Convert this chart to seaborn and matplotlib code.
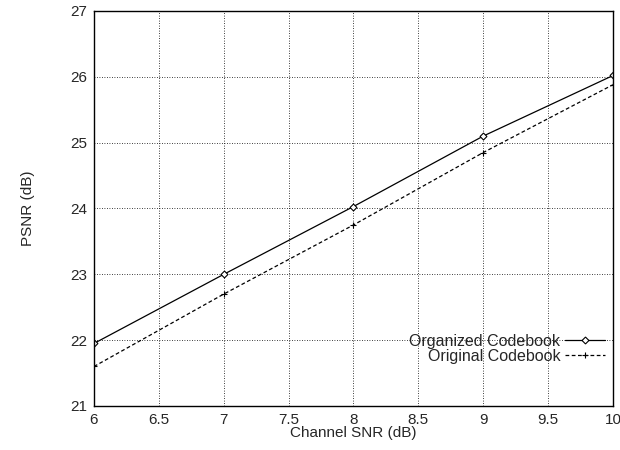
import matplotlib
matplotlib.use('Agg')
import matplotlib.pyplot as plt
import seaborn as sns
import pandas as pd

sns.set_style('white')
plt.rcParams['font.family'] = ['Liberation Sans', 'DejaVu Sans']

snr = [6, 7, 8, 9, 10]
organized = [21.95, 23.0, 24.03, 25.1, 26.02]
original = [21.6, 22.7, 23.75, 24.85, 25.88]

df = pd.DataFrame({'snr': snr, 'Organized Codebook': organized, 'Original Codebook': original})

fig = plt.figure(figsize=(6.2, 4.5), dpi=100)
ax = fig.add_axes([0.1516, 0.0978, 0.8371, 0.8778])

sns.lineplot(data=df, x='snr', y='Organized Codebook', ax=ax, color='black', lw=0.9,
             marker='D', markersize=3.5, markerfacecolor='white', markeredgecolor='black',
             markeredgewidth=0.8, label='Organized Codebook')
sns.lineplot(data=df, x='snr', y='Original Codebook', ax=ax, color='black', lw=0.9,
             linestyle=(0, (3, 2)), marker='+', markersize=5, markeredgewidth=0.8,
             markeredgecolor='black', label='Original Codebook')

ax.set_xlim(6, 10)
ax.set_ylim(21, 27)
ax.set_xticks([6, 6.5, 7, 7.5, 8, 8.5, 9, 9.5, 10])
ax.set_xticklabels(['6', '6.5', '7', '7.5', '8', '8.5', '9', '9.5', '10'])
ax.set_yticks([21, 22, 23, 24, 25, 26, 27])
ax.grid(True, color='black', linestyle=(0, (1, 2)), lw=0.6)
ax.tick_params(direction='in', length=4, labelsize=11, color='black', pad=5)
for s in ax.spines.values():
    s.set_color('black')
    s.set_linewidth(1.0)

ax.set_xlabel('Channel SNR (dB)', fontsize=11, labelpad=-1)
ax.set_ylabel('PSNR (dB)', fontsize=11, labelpad=25)

leg = ax.legend(loc='lower right', bbox_to_anchor=(0.997, 0.09), frameon=False,
                markerfirst=False, fontsize=11.5, handlelength=2.5, handletextpad=0.3,
                labelspacing=0.0, borderaxespad=0.0)
for t in leg.get_texts():
    t.set_ha('right')

fig.savefig('out.png', dpi=100)
